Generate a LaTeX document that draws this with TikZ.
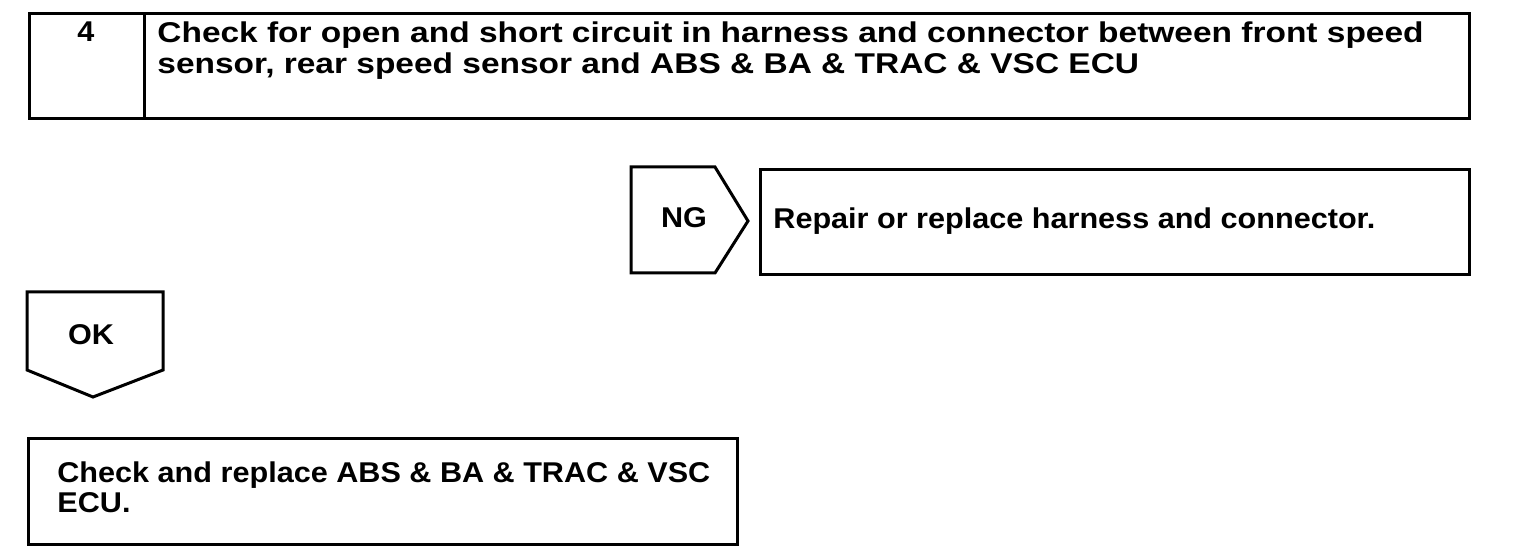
\documentclass[tikz,border=0pt]{standalone}
\usepackage{fontspec}
\setmainfont[FakeStretch=1.07]{Liberation Sans}
\newfontfamily\titlefont[FakeStretch=1.17]{Liberation Sans}
\usetikzlibrary{positioning}

\tikzset{
  frame/.style={draw, line width=1.5pt, inner sep=0pt, anchor=north west},
  flowtext/.style={inner sep=0pt, align=left, font=\fontsize{14.3}{15.5}\selectfont\bfseries},
}

\begin{document}
\begin{tikzpicture}[x=0.5pt, y=-0.5pt]
  \useasboundingbox (0,0) rectangle (1520,560);
  % step header
  \node[frame, minimum width=57.5pt, minimum height=52.5pt] (stepcell) at (28,12) {};
  \node[frame, minimum width=662.5pt, minimum height=52.5pt] (titlecell) at (143,12) {};
  \node[flowtext, anchor=base] (stepno) at (86,42) {4};
  \node[flowtext, anchor=north west, font=\titlefont\fontsize{14.3}{15.5}\selectfont\bfseries] (title) at (157,21)
    {Check for open and short circuit in harness and connector between front speed\\
     sensor, rear speed sensor and ABS \& BA \& TRAC \& VSC ECU};
  % NG branch
  \draw[line width=1.5pt] (631,167) -- (715,167) -- (748,221) -- (715,273) -- (631,273) -- cycle;
  \node[flowtext, anchor=base] (ng) at (684,228) {NG};
  \node[frame, minimum width=354.5pt, minimum height=52.5pt] (repaircell) at (759,168) {};
  \node[flowtext, anchor=base west] (repair) at (773,229) {Repair or replace harness and connector.};
  % OK branch
  \draw[line width=1.5pt] (27,292) -- (163,292) -- (163,370) -- (93,397) -- (27,370) -- cycle;
  \node[flowtext, anchor=base] (ok) at (91,345) {OK};
  \node[frame, minimum width=354.5pt, minimum height=53pt] (ecucell) at (27,437) {};
  \node[flowtext, anchor=north west, font=\fontsize{14.3}{15}\selectfont\bfseries] (ecu) at (57,461)
    {Check and replace ABS \& BA \& TRAC \& VSC\\ECU.};
\end{tikzpicture}
\end{document}
